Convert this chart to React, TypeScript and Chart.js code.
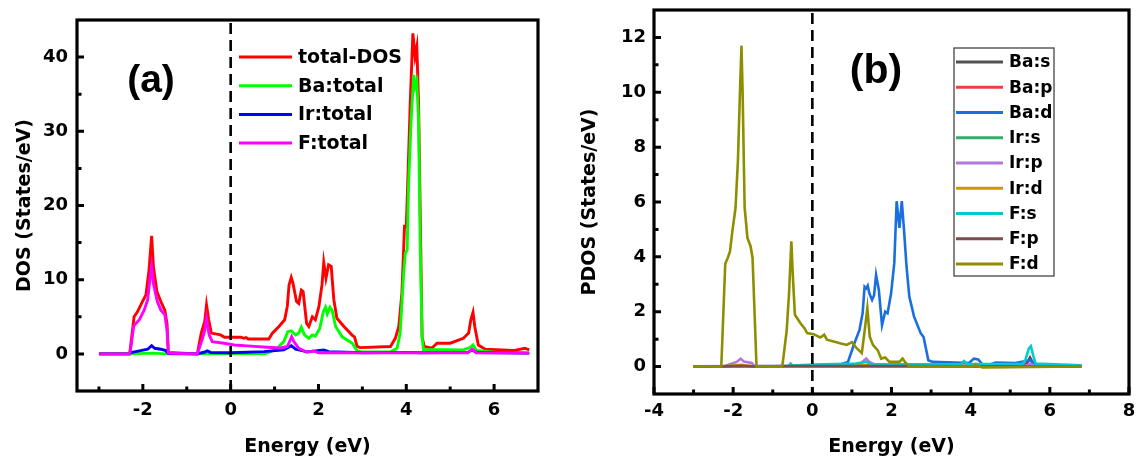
import { useEffect, useRef } from 'react';
import { Chart, registerables } from 'chart.js';

Chart.register(...registerables);

const FONT = "'DejaVu Sans', 'Liberation Sans', Arial, sans-serif";
const PANEL_FONT = "'Liberation Sans', Arial, sans-serif";

// ---------------- Panel (a) data ----------------
const totalE = [-3.0, -2.30, -2.20, -2.12, -2.01, -1.93, -1.86, -1.80, -1.76, -1.68, -1.59, -1.50, -1.45, -1.42, -0.76, -0.67, -0.59, -0.55, -0.50, -0.44, -0.23, -0.14, 0.23, 0.30, 0.35, 0.40, 0.68, 0.87, 0.95, 1.10, 1.23, 1.29, 1.33, 1.38, 1.42, 1.50, 1.55, 1.61, 1.65, 1.73, 1.78, 1.86, 1.93, 2.01, 2.08, 2.12, 2.17, 2.23, 2.29, 2.35, 2.42, 2.58, 2.77, 2.82, 2.88, 2.95, 3.64, 3.75, 3.83, 3.90, 3.96, 4.00, 4.03, 4.09, 4.15, 4.20, 4.24, 4.28, 4.32, 4.36, 4.41, 4.58, 4.70, 5.00, 5.30, 5.42, 5.47, 5.52, 5.56, 5.64, 5.80, 6.44, 6.70, 6.80];
const totalV = [0, 0, 5.0, 5.7, 7.05, 7.95, 11.3, 15.9, 11.8, 8.4, 7.05, 5.9, 4.1, 0.2, 0, 2.8, 4.4, 6.6, 4.6, 2.8, 2.56, 2.25, 2.25, 2.1, 2.2, 2.0, 2.0, 2.0, 2.8, 3.7, 4.6, 6.4, 9.3, 10.3, 9.5, 7.05, 6.8, 8.6, 8.4, 4.1, 3.7, 5.0, 4.6, 6.4, 9.3, 12.3, 10.2, 12.0, 11.8, 7.3, 4.8, 3.7, 2.5, 2.3, 1.0, 0.85, 1.0, 2.1, 3.7, 8.2, 17.2, 17.2, 22.5, 33.8, 43.2, 40.1, 41.4, 33.8, 18.0, 2.3, 1.0, 0.76, 1.44, 1.44, 2.1, 2.8, 4.6, 5.6, 3.7, 1.2, 0.63, 0.45, 0.76, 0.54];

const baTotE = [-3.0, -2.30, -1.80, -1.42, 0.80, 0.91, 1.06, 1.21, 1.30, 1.38, 1.48, 1.55, 1.61, 1.68, 1.78, 1.86, 1.93, 2.03, 2.11, 2.16, 2.20, 2.26, 2.31, 2.39, 2.54, 2.77, 2.84, 2.89, 3.00, 3.64, 3.79, 3.86, 3.94, 3.98, 4.02, 4.05, 4.11, 4.17, 4.20, 4.24, 4.28, 4.32, 4.36, 4.39, 5.30, 5.45, 5.52, 5.60, 6.06, 6.80];
const baTotV = [0, 0, 0.1, 0, 0.05, 0.3, 0.76, 1.66, 3.0, 3.1, 2.56, 2.8, 3.6, 2.56, 2.1, 2.56, 2.4, 3.46, 5.7, 6.3, 5.4, 6.3, 5.9, 3.7, 2.3, 1.44, 0.76, 0.4, 0.25, 0.3, 0.76, 2.8, 10.9, 13.6, 14.0, 22.5, 31.5, 37.6, 36.0, 36.7, 31.5, 13.6, 2.3, 0.6, 0.54, 0.85, 1.2, 0.45, 0.2, 0.1];

const irTotE = [-3.0, -2.30, -2.27, -2.05, -1.89, -1.80, -1.73, -1.59, -1.48, -1.42, -0.76, -0.61, -0.53, -0.45, 0.0, 0.76, 1.21, 1.38, 1.48, 1.74, 2.12, 2.23, 3.00, 4.10, 4.30, 5.40, 5.50, 5.60, 6.80];
const irTotV = [0, 0, 0.18, 0.45, 0.63, 1.1, 0.76, 0.63, 0.45, 0.05, 0, 0.22, 0.4, 0.18, 0.15, 0.3, 0.54, 1.1, 0.63, 0.27, 0.54, 0.3, 0.15, 0.2, 0.15, 0.2, 0.54, 0.18, 0.1];

const fTotE = [-3.0, -2.30, -2.27, -2.21, -2.16, -2.08, -1.97, -1.89, -1.84, -1.80, -1.76, -1.67, -1.59, -1.50, -1.45, -1.42, -0.76, -0.64, -0.59, -0.55, -0.49, -0.42, -0.15, 0.08, 0.38, 0.83, 1.14, 1.29, 1.39, 1.44, 1.55, 1.74, 1.89, 2.00, 5.40, 5.50, 5.60, 6.80];
const fTotV = [0, 0, 1.0, 3.7, 4.1, 4.6, 5.9, 7.3, 10.0, 11.8, 9.5, 7.05, 5.9, 5.3, 3.2, 0.1, 0, 2.1, 3.2, 4.8, 2.56, 1.66, 1.44, 1.2, 1.08, 0.9, 0.8, 1.0, 2.3, 1.66, 0.76, 0.22, 0.4, 0.15, 0.15, 0.63, 0.15, 0.1];

const seriesA = ['total-DOS', 'Ba:total', 'Ir:total', 'F:total'];
const colorsA = ['#FF0000', '#00FF00', '#0000FF', '#FF00FF'];
const energyA = [totalE, baTotE, irTotE, fTotE];
const valuesA = [totalV, baTotV, irTotV, fTotV];

const xTicksA = [-2, 0, 2, 4, 6];
const xMinorA = [-3, -1, 1, 3, 5];
const yTicksA = [0, 10, 20, 30, 40];
const yMinorA = [5, 15, 25, 35];

// ---------------- Panel (b) data ----------------
const baSE = [-3.0, 5.30, 5.42, 5.50, 5.58, 5.70, 6.80];
const baSV = [0.01, 0.02, 0.12, 0.33, 0.12, 0.02, 0.01];

const baPE = [-3.0, 1.30, 1.40, 1.50, 2.20, 5.40, 5.50, 5.60, 6.80];
const baPV = [0.01, 0.01, 0.03, 0.01, 0.02, 0.02, 0.06, 0.02, 0.01];

const baDE = [-3.0, 0.60, 0.77, 0.90, 1.06, 1.19, 1.27, 1.32, 1.36, 1.40, 1.44, 1.51, 1.56, 1.61, 1.68, 1.76, 1.84, 1.90, 1.99, 2.07, 2.13, 2.20, 2.26, 2.32, 2.38, 2.45, 2.57, 2.74, 2.81, 2.87, 2.93, 3.04, 3.62, 3.96, 4.08, 4.19, 4.29, 4.46, 4.63, 5.13, 5.43, 5.51, 5.64, 6.80];
const baDV = [0.01, 0.03, 0.1, 0.17, 0.84, 1.33, 1.94, 2.91, 2.85, 2.95, 2.67, 2.43, 2.6, 3.34, 2.79, 1.51, 2.0, 1.94, 2.67, 3.77, 6.03, 5.06, 6.03, 4.9, 3.64, 2.55, 1.82, 1.21, 1.08, 0.66, 0.23, 0.17, 0.15, 0.13, 0.29, 0.26, 0.09, 0.06, 0.15, 0.13, 0.21, 0.23, 0.06, 0.03];

const irSE = [-3.0, -1.80, -1.45, 1.40, 6.80];
const irSV = [0, 0.02, 0, 0.01, 0];

const irPE = [-3.0, -2.25, -1.91, -1.81, -1.73, -1.53, -1.45, 1.00, 1.19, 1.36, 1.44, 1.61, 5.40, 5.51, 5.60, 6.80];
const irPV = [0, 0, 0.17, 0.29, 0.18, 0.13, 0, 0.03, 0.08, 0.29, 0.17, 0.05, 0.03, 0.11, 0.03, 0.02];

const irDE = [-3.0, -2.30, -1.80, -1.45, -0.55, 1.40, 2.25, 4.00, 4.13, 4.25, 6.80];
const irDV = [0, 0, 0.06, 0, 0.02, 0.05, 0.04, 0.02, 0.1, 0.02, 0.01];

const fSE = [-3.0, -0.62, -0.55, -0.50, 0.02, 1.10, 1.36, 1.50, 3.75, 3.83, 3.92, 5.30, 5.38, 5.47, 5.52, 5.58, 5.64, 6.80];
const fSV = [0, 0, 0.11, 0.04, 0.07, 0.11, 0.17, 0.08, 0.08, 0.2, 0.09, 0.1, 0.23, 0.66, 0.74, 0.41, 0.11, 0.05];

const fPE = [-3.0, -2.30, -1.80, -1.45, -0.55, 1.40, 6.80];
const fPV = [0, 0, 0.03, 0, 0.02, 0.02, 0];

const fDE = [-3.0, -2.30, -2.20, -2.14, -2.08, -2.02, -1.94, -1.88, -1.83, -1.79, -1.76, -1.71, -1.64, -1.56, -1.51, -1.41, -0.76, -0.65, -0.59, -0.53, -0.49, -0.44, -0.30, -0.20, -0.13, 0.03, 0.20, 0.30, 0.37, 0.70, 0.87, 1.00, 1.12, 1.25, 1.33, 1.39, 1.45, 1.53, 1.65, 1.74, 1.84, 1.95, 2.20, 2.28, 2.36, 2.45, 4.00, 4.13, 4.30, 6.80];
const fDV = [0, 0, 3.75, 3.95, 4.2, 4.94, 5.79, 7.5, 9.93, 11.7, 9.9, 5.8, 4.69, 4.39, 3.96, 0, 0, 1.28, 2.62, 4.57, 3.23, 1.89, 1.58, 1.4, 1.22, 1.18, 1.06, 1.16, 0.98, 0.85, 0.79, 0.89, 0.67, 0.49, 1.4, 2.13, 1.1, 0.79, 0.6, 0.29, 0.33, 0.17, 0.17, 0.29, 0.13, 0.01, 0.0, 0.05, -0.03, 0.0];

const seriesB = ['Ba:s', 'Ba:p', 'Ba:d', 'Ir:s', 'Ir:p', 'Ir:d', 'F:s', 'F:p', 'F:d'];
const colorsB = ['#515151', '#F14040', '#1A6FDF', '#37AD6B', '#B177DE', '#CC9900', '#00CBCC', '#7D4E4E', '#8E8E00'];
const energyB = [baSE, baPE, baDE, irSE, irPE, irDE, fSE, fPE, fDE];
const valuesB = [baSV, baPV, baDV, irSV, irPV, irDV, fSV, fPV, fDV];

const xTicksB = [-4, -2, 0, 2, 4, 6, 8];
const xMinorB = [-3, -1, 1, 3, 5, 7];
const yTicksB = [0, 2, 4, 6, 8, 10, 12];
const yMinorB = [1, 3, 5, 7, 9, 11];

type PanelSpec = {
  names: string[];
  colors: string[];
  energies: number[][];
  values: number[][];
  xMin: number; xMax: number; yMin: number; yMax: number;
  xTicks: number[]; xMinor: number[]; yTicks: number[]; yMinor: number[];
  yTitle: string;
  width: number;
  padTop: number; padRight: number; yAxisWidth: number; xAxisHeight: number;
  yTitlePad: number; xTickPad: number; yTickPad: number;
  lineWidth: number;
  legend: { boxed: boolean; x0: number; x1: number; textX: number; y0: number; dy: number; font: number; box?: number[] };
  label: { text: string; x: number; y: number; size: number };
};

function makePlugin(p: PanelSpec) {
  return {
    id: 'decor',
    afterDatasetsDraw(chart: any) {
      const { ctx, chartArea: ca, scales } = chart;
      const xs = scales.x, ys = scales.y;
      ctx.save();
      // zero-energy dashed line
      const x0 = xs.getPixelForValue(0);
      ctx.strokeStyle = '#000';
      ctx.lineWidth = 2.6;
      ctx.setLineDash([11, 6]);
      ctx.beginPath();
      ctx.moveTo(x0, ca.top + 3);
      ctx.lineTo(x0, ca.bottom);
      ctx.stroke();
      ctx.setLineDash([]);
      // inward ticks
      ctx.lineWidth = 3;
      ctx.beginPath();
      p.yTicks.forEach((v) => { const y = ys.getPixelForValue(v); ctx.moveTo(ca.left, y); ctx.lineTo(ca.left + 7, y); });
      p.yMinor.forEach((v) => { const y = ys.getPixelForValue(v); ctx.moveTo(ca.left, y); ctx.lineTo(ca.left + 4.5, y); });
      p.xTicks.forEach((v) => { const x = xs.getPixelForValue(v); ctx.moveTo(x, ca.bottom); ctx.lineTo(x, ca.bottom - 7); });
      p.xMinor.forEach((v) => { const x = xs.getPixelForValue(v); ctx.moveTo(x, ca.bottom); ctx.lineTo(x, ca.bottom - 4.5); });
      ctx.stroke();
      // frame
      ctx.lineWidth = 3.2;
      ctx.strokeRect(ca.left, ca.top, ca.right - ca.left, ca.bottom - ca.top);
      // legend
      const L = p.legend;
      if (L.boxed && L.box) {
        ctx.fillStyle = '#fff';
        ctx.fillRect(L.box[0], L.box[1], L.box[2] - L.box[0], L.box[3] - L.box[1]);
        ctx.lineWidth = 1.3;
        ctx.strokeStyle = '#444';
        ctx.strokeRect(L.box[0], L.box[1], L.box[2] - L.box[0], L.box[3] - L.box[1]);
      }
      ctx.font = `bold ${L.font}px ${FONT}`;
      ctx.textAlign = 'left';
      ctx.textBaseline = 'middle';
      chart.data.datasets.forEach((ds: any, i: number) => {
        const y = L.y0 + i * L.dy;
        ctx.strokeStyle = ds.borderColor;
        ctx.lineWidth = 3;
        ctx.beginPath();
        ctx.moveTo(L.x0, y);
        ctx.lineTo(L.x1, y);
        ctx.stroke();
        ctx.fillStyle = '#000';
        ctx.fillText(ds.label, L.textX, y + 1);
      });
      // panel label
      ctx.font = `bold ${p.label.size}px ${PANEL_FONT}`;
      ctx.textAlign = 'center';
      ctx.textBaseline = 'middle';
      ctx.fillStyle = '#000';
      ctx.fillText(p.label.text, p.label.x, p.label.y);
      ctx.restore();
    },
  };
}

function makeConfig(p: PanelSpec): any {
  const n = p.names.length;
  const datasets = p.names.map((name, i) => ({
    label: name,
    data: p.energies[i].map((e, k) => ({ x: e, y: p.values[i][k] })),
    borderColor: p.colors[i],
    backgroundColor: p.colors[i],
    borderWidth: p.lineWidth,
    showLine: true,
    pointRadius: 0,
    pointHoverRadius: 0,
    tension: 0,
    fill: false,
    order: n - i,
  }));
  const tickFont = { family: FONT, size: 18, weight: 'bold' as const };
  const titleFont = { family: FONT, size: 19, weight: 'bold' as const };
  return {
    type: 'scatter',
    data: { datasets },
    options: {
      animation: false,
      responsive: false,
      maintainAspectRatio: false,
      devicePixelRatio: 1,
      layout: { padding: { top: p.padTop, right: p.padRight, bottom: 0, left: 0 } },
      plugins: { legend: { display: false }, tooltip: { enabled: false } },
      events: [],
      scales: {
        x: {
          type: 'linear',
          min: p.xMin,
          max: p.xMax,
          afterBuildTicks: (s: any) => { s.ticks = p.xTicks.map((v) => ({ value: v })); },
          afterFit: (s: any) => { s.height = p.xAxisHeight; s.paddingLeft = 0; s.paddingRight = 0; },
          grid: { display: false, drawTicks: false },
          border: { display: false },
          ticks: { font: tickFont, color: '#000', padding: p.xTickPad, maxRotation: 0, autoSkip: false, callback: (v: any) => String(v) },
          title: { display: true, text: 'Energy (eV)', font: titleFont, color: '#000', padding: { top: 0, bottom: 6 } },
        },
        y: {
          type: 'linear',
          min: p.yMin,
          max: p.yMax,
          afterBuildTicks: (s: any) => { s.ticks = p.yTicks.map((v) => ({ value: v })); },
          afterFit: (s: any) => { s.width = p.yAxisWidth; s.paddingTop = 0; s.paddingBottom = 0; },
          grid: { display: false, drawTicks: false },
          border: { display: false },
          ticks: { font: tickFont, color: '#000', padding: p.yTickPad, autoSkip: false, callback: (v: any) => String(v) },
          title: { display: true, text: p.yTitle, font: titleFont, color: '#000', padding: { top: p.yTitlePad, bottom: 0 } },
        },
      },
    },
    plugins: [makePlugin(p)],
  };
}

const panelA: PanelSpec = {
  names: seriesA, colors: colorsA, energies: energyA, values: valuesA,
  xMin: -3.5, xMax: 7, yMin: -5, yMax: 45,
  xTicks: xTicksA, xMinor: xMinorA, yTicks: yTicksA, yMinor: yMinorA,
  yTitle: 'DOS (States/eV)',
  width: 560,
  padTop: 20, padRight: 22, yAxisWidth: 77, xAxisHeight: 73,
  yTitlePad: 14, xTickPad: 9, yTickPad: 9,
  lineWidth: 2.9,
  legend: { boxed: false, x0: 239, x1: 292, textX: 298, y0: 57, dy: 28.7, font: 19 },
  label: { text: '(a)', x: 151, y: 81, size: 39 },
};

const panelB: PanelSpec = {
  names: seriesB, colors: colorsB, energies: energyB, values: valuesB,
  xMin: -4, xMax: 8, yMin: -1, yMax: 13,
  xTicks: xTicksB, xMinor: xMinorB, yTicks: yTicksB, yMinor: yMinorB,
  yTitle: 'PDOS (States/eV)',
  width: 576,
  padTop: 10, padRight: 7, yAxisWidth: 94, xAxisHeight: 70,
  yTitlePad: 19, xTickPad: 7, yTickPad: 8,
  lineWidth: 2.6,
  legend: { boxed: true, x0: 396, x1: 443, textX: 449, y0: 62, dy: 25.25, font: 17, box: [394, 48, 494, 276] },
  label: { text: '(b)', x: 316, y: 72, size: 41 },
};

function Panel({ spec, left }: { spec: PanelSpec; left: number }) {
  const ref = useRef<HTMLCanvasElement | null>(null);
  useEffect(() => {
    if (!ref.current) return;
    const chart = new Chart(ref.current, makeConfig(spec));
    return () => chart.destroy();
  }, [spec]);
  return (
    <canvas
      ref={ref}
      width={spec.width}
      height={464}
      style={{ position: 'absolute', left, top: 0, width: spec.width, height: 464, display: 'block' }}
    />
  );
}

export default function App() {
  return (
    <div style={{ position: 'fixed', left: 0, top: 0, width: 1136, height: 464, background: '#fff', overflow: 'hidden' }}>
      <Panel spec={panelA} left={0} />
      <Panel spec={panelB} left={560} />
    </div>
  );
}
